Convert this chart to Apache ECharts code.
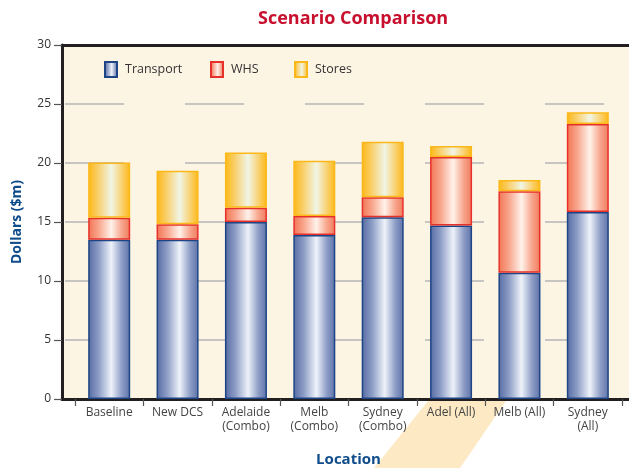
<!DOCTYPE html>
<html>
<head>
<meta charset="utf-8">
<script src="https://cdn.jsdelivr.net/npm/echarts@6/dist/echarts.min.js"></script>
<style>html,body{margin:0;padding:0;background:#fff}#c{width:629px;height:468px}</style>
</head>
<body>
<div id="c"></div>
<script>
var categories = ['Baseline', 'New DCS', 'Adelaide\n(Combo)', 'Melb\n(Combo)', 'Sydney\n(Combo)', 'Adel (All)', 'Melb (All)', 'Sydney\n(All)'];
var transport = [13.5, 13.5, 15.0, 13.9, 15.4, 14.7, 10.7, 15.85];
var whs = [1.85, 1.3, 1.2, 1.6, 1.7, 5.8, 6.9, 7.45];
var stores = [4.7, 4.55, 4.7, 4.7, 4.7, 0.95, 0.95, 1.0];
var seriesNames = ['Transport', 'WHS', 'Stores'];
var yTicks = [0, 5, 10, 15, 20, 25, 30];

var FONT = '"Open Sans", "Noto Sans", sans-serif';
function grad(c0, c1, c2, c3, c4) {
  return new echarts.graphic.LinearGradient(0, 0, 1, 0, [
    {offset: 0, color: c0}, {offset: 0.25, color: c1}, {offset: 0.55, color: c2},
    {offset: 0.8, color: c3}, {offset: 1, color: c4}
  ]);
}
var legendLefts = [99, 205, 289];
function mkLegend(i) {
  return {
    left: legendLefts[i], top: 56, itemWidth: 12, itemHeight: 15,
    icon: 'rect',
    textStyle: {color: '#333', fontSize: 12.5, fontFamily: FONT, padding: [0, 0, 0, 3]},
    data: [seriesNames[i]]
  };
}
var chart = echarts.init(document.getElementById('c'), null, {renderer: 'canvas'});
var option = {
  animation: false,
  textStyle: {fontFamily: FONT},
  title: {
    text: 'Scenario Comparison', left: 253, top: 5,
    textStyle: {color: '#c8102e', fontSize: 18, fontWeight: 'bold', fontFamily: FONT}
  },
  legend: [mkLegend(0), mkLegend(1), mkLegend(2)],
  graphic: [{
    type: 'polygon', z: -10,
    shape: {points: [[428, 401], [506, 401], [460, 468], [374, 468]]},
    style: {fill: '#fde9c4'}
  }],
  grid: [
    {left: 62, top: 45, right: -5, bottom: 69, show: true, backgroundColor: '#fdf5e4', borderWidth: 0, containLabel: false, outerBoundsMode: 'none'},
    {left: 75, top: 45, width: 547, bottom: 69, containLabel: false, outerBoundsMode: 'none'}
  ],
  xAxis: [
    {gridIndex: 0, type: 'value', min: 0, max: 1, position: 'bottom',
     axisLine: {show: true, onZero: false, lineStyle: {color: '#231f20', width: 3}},
     axisTick: {show: false}, axisLabel: {show: false}, splitLine: {show: false}},
    {gridIndex: 0, type: 'value', min: 0, max: 1, position: 'top',
     axisLine: {show: true, onZero: false, lineStyle: {color: '#231f20', width: 3}},
     axisTick: {show: false}, axisLabel: {show: false}, splitLine: {show: false}},
    {gridIndex: 1, type: 'category', data: categories, boundaryGap: true,
     axisLine: {show: false},
     axisTick: {show: true, length: 7, lineStyle: {color: '#555', width: 1.2}},
     axisLabel: {color: '#444', fontSize: 12, lineHeight: 14, margin: 7, interval: 0, fontFamily: FONT},
     name: 'Location', nameLocation: 'middle', nameGap: 53,
     nameTextStyle: {color: '#0f4c8a', fontSize: 15, fontWeight: 'bold', fontFamily: FONT}}
  ],
  yAxis: [
    {gridIndex: 0, type: 'value', min: yTicks[0], max: yTicks[yTicks.length - 1], interval: 5,
     axisLine: {show: true, onZero: false, lineStyle: {color: '#231f20', width: 3}},
     axisTick: {show: true, length: 8, lineStyle: {color: '#555', width: 1.2}},
     axisLabel: {color: '#333', fontSize: 12, margin: 11, fontFamily: FONT},
     splitLine: {show: true, lineStyle: {color: '#b5b5b5', width: 1.5, type: [59, 61], dashOffset: 117}},
     name: 'Dollars ($m)', nameLocation: 'middle', nameGap: 38,
     nameTextStyle: {color: '#0f4c8a', fontSize: 14, fontWeight: 'bold', fontFamily: FONT}},
    {gridIndex: 1, type: 'value', min: 0, max: 30, show: false}
  ],
  series: [
    {name: seriesNames[0], type: 'bar', stack: 't', xAxisIndex: 2, yAxisIndex: 1, barWidth: 42, data: transport,
     itemStyle: {color: grad('#566ba3', '#8d9dc6', '#eef2f9', '#8d9dc6', '#5e72a8'), borderColor: '#1d4585', borderWidth: 1.5}},
    {name: seriesNames[1], type: 'bar', stack: 't', xAxisIndex: 2, yAxisIndex: 1, barWidth: 42, data: whs,
     itemStyle: {color: grad('#f27453', '#f8a68d', '#fff2ea', '#f7a58c', '#f07a5c'), borderColor: '#e8302a', borderWidth: 1.5}},
    {name: seriesNames[2], type: 'bar', stack: 't', xAxisIndex: 2, yAxisIndex: 1, barWidth: 42, data: stores,
     itemStyle: {color: grad('#fdb714', '#f9d170', '#f0f5e6', '#f9d272', '#fdb714'), borderColor: '#fbb81a', borderWidth: 1.5}}
  ]
};
chart.setOption(option);
</script>
</body>
</html>
